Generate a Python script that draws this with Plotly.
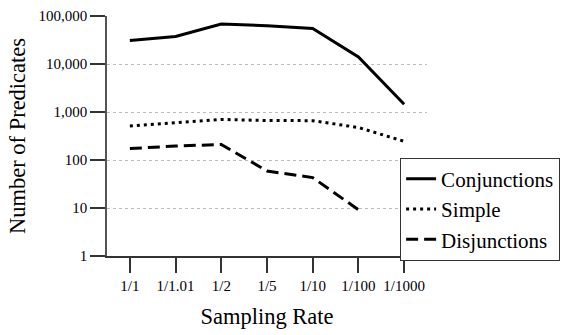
import plotly.graph_objects as go

rates = ["1/1", "1/1.01", "1/2", "1/5", "1/10", "1/100", "1/1000"]
conjunctions = [31000, 37500, 68000, 63000, 55000, 14000, 1450]
simple = [510, 600, 700, 665, 660, 475, 245]
disjunctions = [173, 195, 211, 59, 43, 9.2, None]
y_ticks = [1, 10, 100, 1000, 10000, 100000]
y_ticktext = ["1", "10", "100", "1,000", "10,000", "100,000"]

FONT = "Liberation Serif"

fig = go.Figure()
fig.add_trace(go.Scatter(x=rates, y=conjunctions, mode="lines", name="Conjunctions",
                         line=dict(color="black", width=3)))
fig.add_trace(go.Scatter(x=rates, y=simple, mode="lines", name="Simple",
                         line=dict(color="black", width=3, dash="3px,4px")))
fig.add_trace(go.Scatter(x=rates, y=disjunctions, mode="lines", name="Disjunctions",
                         line=dict(color="black", width=3, dash="12px,6px")))

fig.update_layout(
    width=584, height=335,
    margin=dict(l=107, r=157, t=8, b=79),
    paper_bgcolor="white", plot_bgcolor="white",
    font=dict(family=FONT, color="black", size=15),
    showlegend=True,
    legend=dict(x=0.916, y=0.41, xanchor="left", yanchor="top",
                bordercolor="#333", borderwidth=1, bgcolor="white",
                font=dict(size=21, family=FONT, color="black"), itemwidth=30,
                tracegroupgap=0, traceorder="normal"),
    xaxis=dict(type="category", range=[-0.5, 6.5], showgrid=False,
               showline=True, linecolor="#333", linewidth=1.5,
               ticks="outside", ticklen=15, tickcolor="#333", tickwidth=1.5,
               tickfont=dict(size=15, family=FONT), zeroline=False,
               title=dict(text="Sampling Rate", font=dict(size=22.5, family=FONT), standoff=15)),
    yaxis=dict(type="log", range=[0, 5], showgrid=True, gridcolor="#bbbbbb",
               griddash="dot", gridwidth=1,
               tickvals=y_ticks, ticktext=y_ticktext,
               showline=True, linecolor="#555", linewidth=1.5,
               ticks="outside", ticklen=15, tickcolor="#333", tickwidth=1.5,
               tickfont=dict(size=15, family=FONT), zeroline=False,
               title=dict(text="Number of Predicates", font=dict(size=22.5, family=FONT), standoff=7)),
)

fig.write_html("out.html")
